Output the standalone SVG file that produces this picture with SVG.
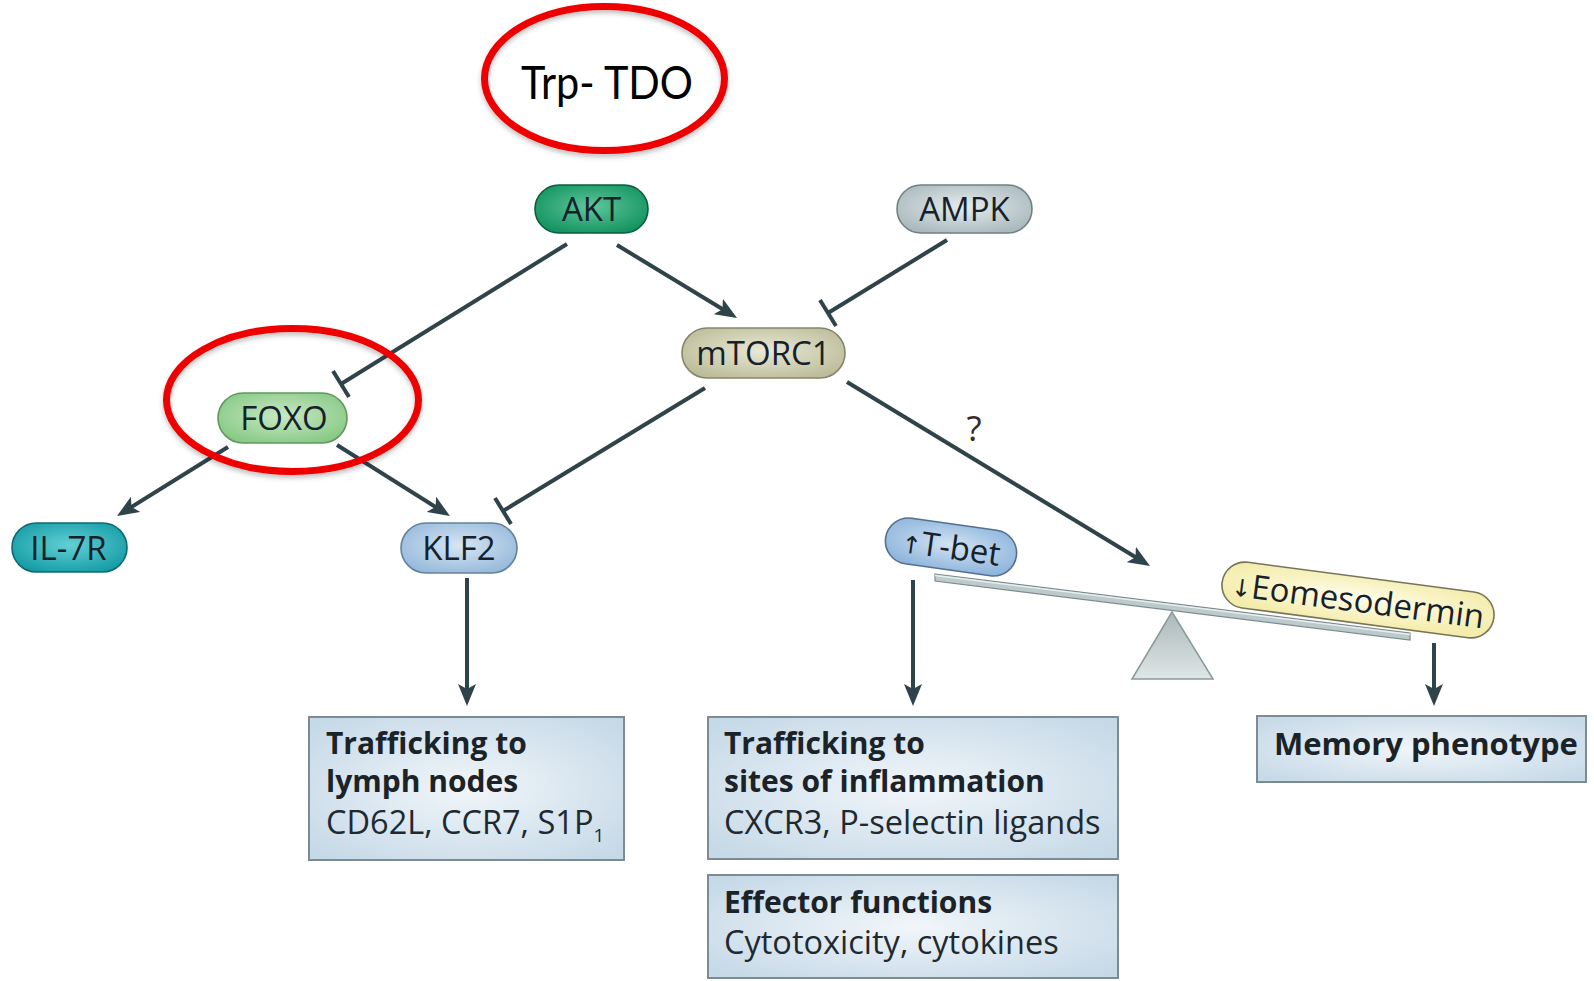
<svg xmlns="http://www.w3.org/2000/svg" width="1594" height="981" viewBox="0 0 1594 981">
<style>
.lbl{font-family:"Open Sans","Liberation Sans",sans-serif;font-size:33px;fill:#17212a;text-anchor:middle}
.bt{font-family:"Open Sans","Liberation Sans",sans-serif;font-size:30px;font-weight:bold;fill:#1b2328}
.rt{font-family:"Open Sans","Liberation Sans",sans-serif;font-size:32.5px;fill:#1f2a30}
.con{stroke:#2f434b;stroke-width:4;fill:none}
.box{stroke:#7d8c94;stroke-width:2;fill:url(#gBox)}
.red{fill:none;stroke:#ee0000;stroke-width:7}
.pill{stroke-width:1.6}
</style>
<defs>
<marker id="ah" viewBox="0 0 22 18" refX="12" refY="9" markerWidth="22" markerHeight="18" markerUnits="userSpaceOnUse" orient="auto">
<path d="M0,0 L22,9 L0,18 L5,9 z" fill="#2f434b"/>
</marker>
<radialGradient id="gBox" cx="50%" cy="50%" r="65%"><stop offset="0" stop-color="#f1f6fa"/><stop offset="1" stop-color="#c6d9e7"/></radialGradient>
<radialGradient id="gAKT" cx="50%" cy="45%" r="60%"><stop offset="0" stop-color="#5ec79b"/><stop offset="1" stop-color="#13925f"/></radialGradient>
<radialGradient id="gAMPK" cx="50%" cy="45%" r="60%"><stop offset="0" stop-color="#e6ecee"/><stop offset="1" stop-color="#aab9bd"/></radialGradient>
<radialGradient id="gMT" cx="50%" cy="45%" r="60%"><stop offset="0" stop-color="#e9e9d6"/><stop offset="1" stop-color="#bdbd9b"/></radialGradient>
<radialGradient id="gFOXO" cx="50%" cy="45%" r="60%"><stop offset="0" stop-color="#c8eac5"/><stop offset="1" stop-color="#88c985"/></radialGradient>
<radialGradient id="gIL" cx="50%" cy="45%" r="60%"><stop offset="0" stop-color="#62d0d5"/><stop offset="1" stop-color="#169ca6"/></radialGradient>
<radialGradient id="gKLF" cx="50%" cy="45%" r="60%"><stop offset="0" stop-color="#d6e6f4"/><stop offset="1" stop-color="#97b9da"/></radialGradient>
<radialGradient id="gTB" cx="50%" cy="45%" r="60%"><stop offset="0" stop-color="#d2e3f3"/><stop offset="1" stop-color="#8fb5dc"/></radialGradient>
<radialGradient id="gEO" cx="50%" cy="45%" r="60%"><stop offset="0" stop-color="#fffdea"/><stop offset="1" stop-color="#f4ecaa"/></radialGradient>
<linearGradient id="gTri" x1="0" y1="0" x2="0" y2="1"><stop offset="0" stop-color="#aab8b9"/><stop offset="1" stop-color="#dfe6e6"/></linearGradient>
<filter id="sh" x="-10%" y="-10%" width="120%" height="130%"><feDropShadow dx="0" dy="3" stdDeviation="2.5" flood-color="#000" flood-opacity="0.25"/></filter>
</defs>
<rect width="1594" height="981" fill="#ffffff"/>

<g id="connectors">
<line class="con" x1="617" y1="245" x2="728.5" y2="312.8" marker-end="url(#ah)"/>
<line class="con" x1="228" y1="447" x2="125.5" y2="510.7" marker-end="url(#ah)"/>
<line class="con" x1="337" y1="445" x2="441.5" y2="510.7" marker-end="url(#ah)"/>
<line class="con" x1="847" y1="382" x2="1141.5" y2="560.8" marker-end="url(#ah)"/>
<line class="con" x1="467" y1="578" x2="467" y2="696" marker-end="url(#ah)"/>
<line class="con" x1="913" y1="580" x2="913" y2="696" marker-end="url(#ah)"/>
<line class="con" x1="1434" y1="643" x2="1434" y2="696" marker-end="url(#ah)"/>
<line class="con" x1="567" y1="244" x2="341" y2="384"/>
<line class="con" x1="333" y1="371" x2="349" y2="397"/>
<line class="con" x1="947" y1="240" x2="828" y2="313"/>
<line class="con" x1="820" y1="300" x2="836" y2="326"/>
<line class="con" x1="705" y1="388" x2="503" y2="511"/>
<line class="con" x1="495" y1="498" x2="511" y2="524"/>
<text x="974" y="441" class="lbl" style="fill:#3a2a22;font-size:35px">?</text>
</g>

<g id="trp-tdo">
<ellipse class="red" cx="604.5" cy="78.5" rx="120" ry="72" filter="url(#sh)"/>
<text x="607" y="99" style="font-family:Lato,'Open Sans',sans-serif;font-size:46px;fill:#000;text-anchor:middle" textLength="172" lengthAdjust="spacingAndGlyphs">Trp- TDO</text>
</g>

<g id="akt">
<rect class="pill" x="535" y="185" width="113" height="48" rx="24" fill="url(#gAKT)" stroke="#0b5e3e"/>
<text class="lbl" x="591.5" y="221">AKT</text>
</g>
<g id="ampk">
<rect class="pill" x="897" y="185" width="135" height="48" rx="24" fill="url(#gAMPK)" stroke="#6f8185"/>
<text class="lbl" x="964.5" y="221">AMPK</text>
</g>
<g id="mtorc1">
<rect class="pill" x="682" y="328" width="163" height="50" rx="25" fill="url(#gMT)" stroke="#85856a"/>
<text class="lbl" x="763.5" y="365">mTORC1</text>
</g>
<g id="foxo">
<rect class="pill" x="218" y="393" width="129" height="50" rx="25" fill="url(#gFOXO)" stroke="#5f9a5c"/>
<text class="lbl" x="284" y="430">FOXO</text>
<ellipse class="red" cx="292.5" cy="400" rx="126" ry="71.5" filter="url(#sh)"/>
</g>
<g id="il7r">
<rect class="pill" x="12" y="523" width="115" height="49" rx="24.5" fill="url(#gIL)" stroke="#0e6a72"/>
<text class="lbl" x="68.5" y="559.5">IL-7R</text>
</g>
<g id="klf2">
<rect class="pill" x="401" y="523" width="116" height="50" rx="25" fill="url(#gKLF)" stroke="#60829f"/>
<text class="lbl" x="459" y="560">KLF2</text>
</g>

<g id="balance">
<polygon points="935,574 1410,633 1410,640 935,581" fill="#bccacc" stroke="#7b8c90" stroke-width="1.2"/>
<line x1="935" y1="575.5" x2="1410" y2="634.5" stroke="#e8eeee" stroke-width="1.5"/>
<polygon points="1172,612 1132,679 1213,679" fill="url(#gTri)" stroke="#8a9a9a" stroke-width="1.5"/>
</g>
<g id="tbet">
<g transform="translate(951,547) rotate(8)">
<rect class="pill" x="-66" y="-23" width="132" height="46" rx="23" fill="url(#gTB)" stroke="#53708f"/>
<text class="lbl" x="0" y="12"><tspan style="font-family:'DejaVu Sans',sans-serif;font-size:24px">↑</tspan>T-bet</text>
</g>
</g>
<g id="eomes">
<g transform="translate(1358,600) rotate(7.5)">
<rect class="pill" x="-137" y="-23" width="274" height="46" rx="23" fill="url(#gEO)" stroke="#77745a"/>
<text class="lbl" x="0" y="12"><tspan style="font-family:'DejaVu Sans',sans-serif;font-size:24px">↓</tspan>Eomesodermin</text>
</g>
</g>

<g id="box-lymph">
<rect class="box" x="309" y="717" width="315" height="143"/>
<text class="bt" x="326" y="754">Trafficking to</text>
<text class="bt" x="326" y="792">lymph nodes</text>
<text class="rt" x="326" y="834">CD62L, CCR7, S1P<tspan font-size="19" dy="8">1</tspan></text>
</g>
<g id="box-inflam">
<rect class="box" x="708" y="717" width="410" height="142"/>
<text class="bt" x="724" y="754">Trafficking to</text>
<text class="bt" x="724" y="792">sites of inflammation</text>
<text class="rt" x="724" y="834">CXCR3, P-selectin ligands</text>
</g>
<g id="box-effector">
<rect class="box" x="708" y="875" width="410" height="103"/>
<text class="bt" x="724" y="913">Effector functions</text>
<text class="rt" x="724" y="954">Cytotoxicity, cytokines</text>
</g>
<g id="box-memory">
<rect class="box" x="1257" y="716" width="329" height="66"/>
<text class="bt" x="1274" y="755" style="font-size:31px">Memory phenotype</text>
</g>
</svg>
